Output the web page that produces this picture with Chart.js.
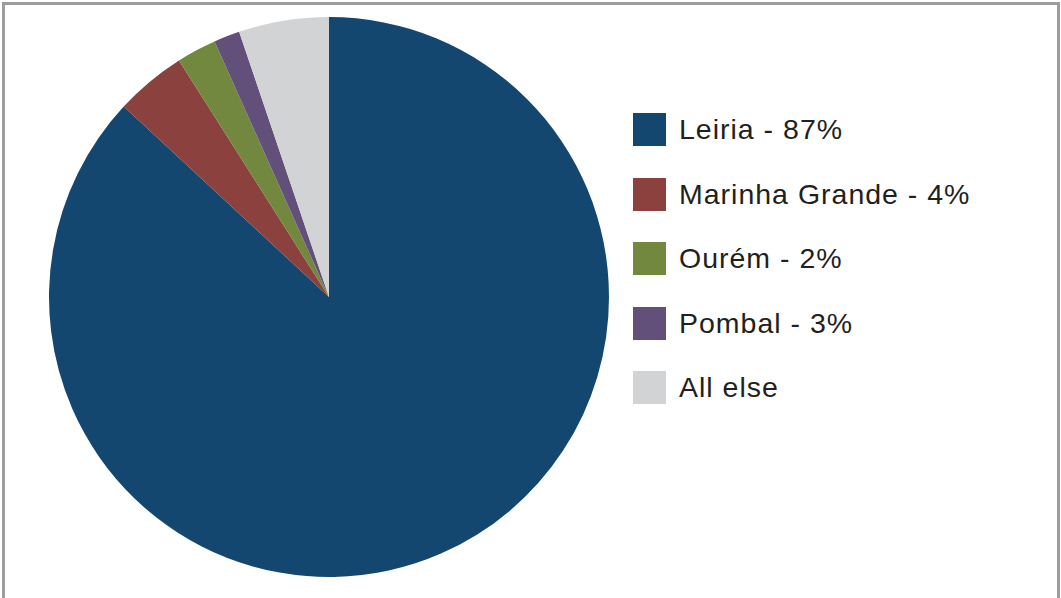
<!DOCTYPE html>
<html>
<head>
<meta charset="utf-8">
<script src="https://cdn.jsdelivr.net/npm/chart.js@4"></script>
<style>
  html, body { margin: 0; padding: 0; background: #fff; }
  body { width: 1061px; height: 598px; position: relative; overflow: hidden; }
  #frame { position: absolute; left: 2px; top: 2px; width: 1052px; height: 593px;
           border-left: 3px solid #9d9d9d; border-top: 3px solid #9d9d9d; border-right: 3px solid #9d9d9d;
           border-bottom: 2px solid #d4d4d4; }
  #pieWrap { position: absolute; left: 49px; top: 17px; width: 560px; height: 560px; }
  #legend { position: absolute; left: 633px; top: 113px; font-family: "Liberation Sans", Arial, sans-serif;
            font-size: 28.5px; letter-spacing: 1px; color: #231f20; }
  .item { display: flex; align-items: center; height: 33px; margin-bottom: 31.5px; }
  .box { width: 33px; height: 33px; margin-right: 13px; flex: none; }
</style>
</head>
<body>
<div id="frame"></div>
<div id="pieWrap"><canvas id="c"></canvas></div>
<div id="legend"></div>
<script>
const categories = ["Leiria", "Marinha Grande", "Ourém", "Pombal", "All else"];
const legendLabels = ["Leiria - 87%", "Marinha Grande - 4%", "Ourém - 2%", "Pombal - 3%", "All else"];
const shares = [86.9, 4.1, 2.3, 1.5, 5.2];
const colors = ["#13476f", "#8b423f", "#73883f", "#62507a", "#d2d3d5"];

new Chart(document.getElementById("c"), {
  type: "pie",
  data: {
    labels: categories,
    datasets: [{ data: shares, backgroundColor: colors, borderWidth: 0 }]
  },
  options: {
    responsive: true,
    maintainAspectRatio: false,
    animation: false,
    layout: { padding: 0 },
    plugins: { legend: { display: false }, tooltip: { enabled: false } }
  }
});

const lg = document.getElementById("legend");
legendLabels.forEach((t, i) => {
  const d = document.createElement("div");
  d.className = "item";
  const b = document.createElement("div");
  b.className = "box";
  b.style.background = colors[i];
  const s = document.createElement("span");
  s.textContent = t;
  d.appendChild(b); d.appendChild(s);
  lg.appendChild(d);
});
</script>
</body>
</html>
